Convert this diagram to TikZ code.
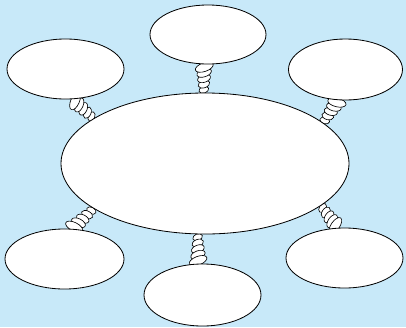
\documentclass[tikz,border=0pt]{standalone}
\usepackage{tikz}
\usetikzlibrary{shapes.geometric,positioning}
\usetikzlibrary{decorations.markings}
\definecolor{sky}{RGB}{200,233,249}
\pgfdeclarelayer{bg}
\pgfdeclarelayer{ropes}
\pgfsetlayers{bg,ropes,main}

\begin{document}
\begin{tikzpicture}[x=0.3mm,y=-0.3mm,
bubble/.style={ellipse,draw,fill=white,line width=0.7pt,inner sep=0pt},
link/.style={ellipse,draw,fill=white,line width=0.55pt,inner sep=0pt,transform shape,rotate=20},
rope/.style={decoration={markings,
 mark=at position 0.1 with {\node[link,minimum width=2mm,minimum height=3mm]{};},
 mark=at position 0.3 with {\node[link,minimum width=2.2mm,minimum height=3.6mm]{};},
 mark=at position 0.5 with {\node[link,minimum width=2.3mm,minimum height=4mm]{};},
 mark=at position 0.7 with {\node[link,minimum width=2.4mm,minimum height=4.5mm]{};},
 mark=at position 0.9 with {\node[link,minimum width=2.6mm,minimum height=5.6mm]{};}},
 postaction=decorate}]
\begin{pgfonlayer}{bg}
\fill[sky] (0,0) rectangle (406,327);
\end{pgfonlayer}
\useasboundingbox (0,0) rectangle (406,327);
\node[bubble,minimum width=86.4mm,minimum height=42.3mm] (hub) at (205,163.5) {};
\node[bubble,minimum width=34.8mm,minimum height=17.7mm] (top) at (208,34.5) {};
\node[bubble,minimum width=35.1mm,minimum height=18mm] (tl) at (65.5,69) {};
\node[bubble,minimum width=34.2mm,minimum height=18.3mm] (tr) at (345.5,69.5) {};
\node[bubble,minimum width=35.7mm,minimum height=18mm] (bl) at (64.5,259) {};
\node[bubble,minimum width=35.1mm,minimum height=18.6mm] (bot) at (202.5,295) {};
\node[bubble,minimum width=35.1mm,minimum height=18mm] (br) at (344.5,258) {};
\begin{pgfonlayer}{ropes}
\path[rope] (hub.91.6) -- (top.-97.7);
\path[rope] (hub.158.8) -- (tl.-76);
\path[rope] (hub.19.8) -- (tr.-103);
\path[rope] (hub.-158.5) -- (bl.76);
\path[rope] (hub.-96.5) -- (bot.98.5);
\path[rope] (hub.-20.8) -- (br.104);
\end{pgfonlayer}
\end{tikzpicture}
\end{document}
